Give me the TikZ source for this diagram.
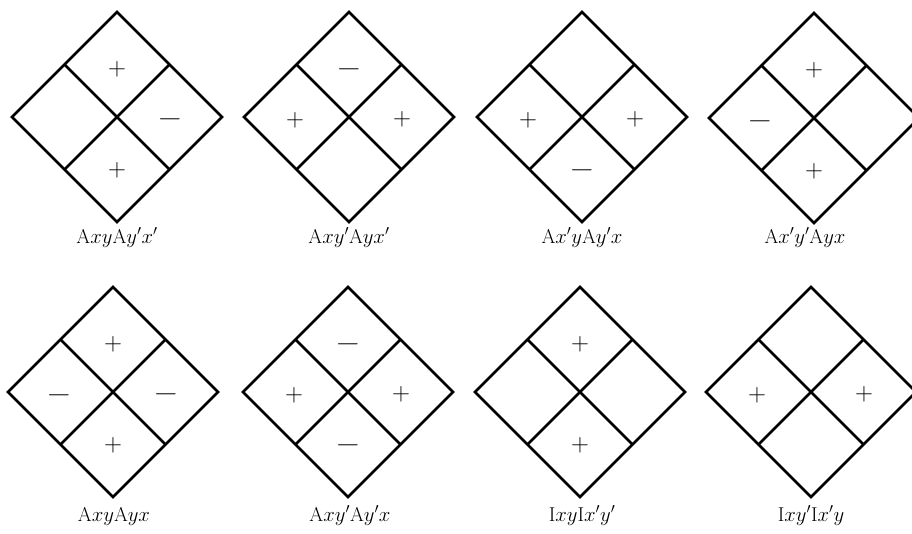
\documentclass[tikz,border=0pt]{standalone}
\usepackage{graphicx}

\tikzstyle{cell} = [line width=2.6pt, line join=miter]
\tikzstyle{sign} = [inner sep=0pt, font=\fontsize{24}{28}\selectfont]
\tikzstyle{caption} = [inner sep=0pt, font=\fontsize{20}{24}\selectfont, text height=14pt, text depth=5pt]

\newcommand{\pl}{$+$}
\newcommand{\mi}{\scalebox{1.3}[1]{$-$}}

% name, centre, top, left, right, bottom, caption position, caption
\newcommand{\signdiamond}[8]{%
  \begin{scope}[shift={(#2)}]
    \draw[cell] (0,-105) -- (105,0) -- (0,105) -- (-105,0) -- cycle;
    \draw[cell] (-52.5,-52.5) -- (52.5,52.5);
    \draw[cell] (52.5,-52.5) -- (-52.5,52.5);
    \node[sign] (#1-t) at (0,-48) {#3};
    \node[sign] (#1-l) at (-54,3) {#4};
    \node[sign] (#1-r) at (53,2) {#5};
    \node[sign] (#1-b) at (0,53) {#6};
    \node[caption] (#1-c) at (#7) {#8};
  \end{scope}}

\begin{document}
\begin{tikzpicture}[x=1pt, y=-1pt]
  \useasboundingbox (0,0) rectangle (912,533);

  % top row
  \signdiamond{d1}{117,117}{\pl}{}{\mi}{\pl}{0,122}{A$xy$A$y'x'$}
  \signdiamond{d2}{349,117}{\mi}{\pl}{\pl}{}{0,122}{A$xy'$A$yx'$}
  \signdiamond{d3}{582,117}{}{\pl}{\pl}{\mi}{0,122}{A$x'y$A$y'x$}
  \signdiamond{d4}{814,118}{\pl}{\mi}{}{\pl}{-9,121}{A$x'y'$A$yx$}

  % bottom row
  \signdiamond{d5}{113,392}{\pl}{\mi}{\mi}{\pl}{1,125}{A$xy$A$yx$}
  \signdiamond{d6}{348,392}{\mi}{\pl}{\pl}{\mi}{2,125}{A$xy'$A$y'x$}
  \signdiamond{d7}{580,392}{\pl}{}{}{\pl}{2,125}{I$xy$I$x'y'$}
  \signdiamond{d8}{811,392}{}{\pl}{\pl}{}{0,125}{I$xy'$I$x'y$}
\end{tikzpicture}
\end{document}
